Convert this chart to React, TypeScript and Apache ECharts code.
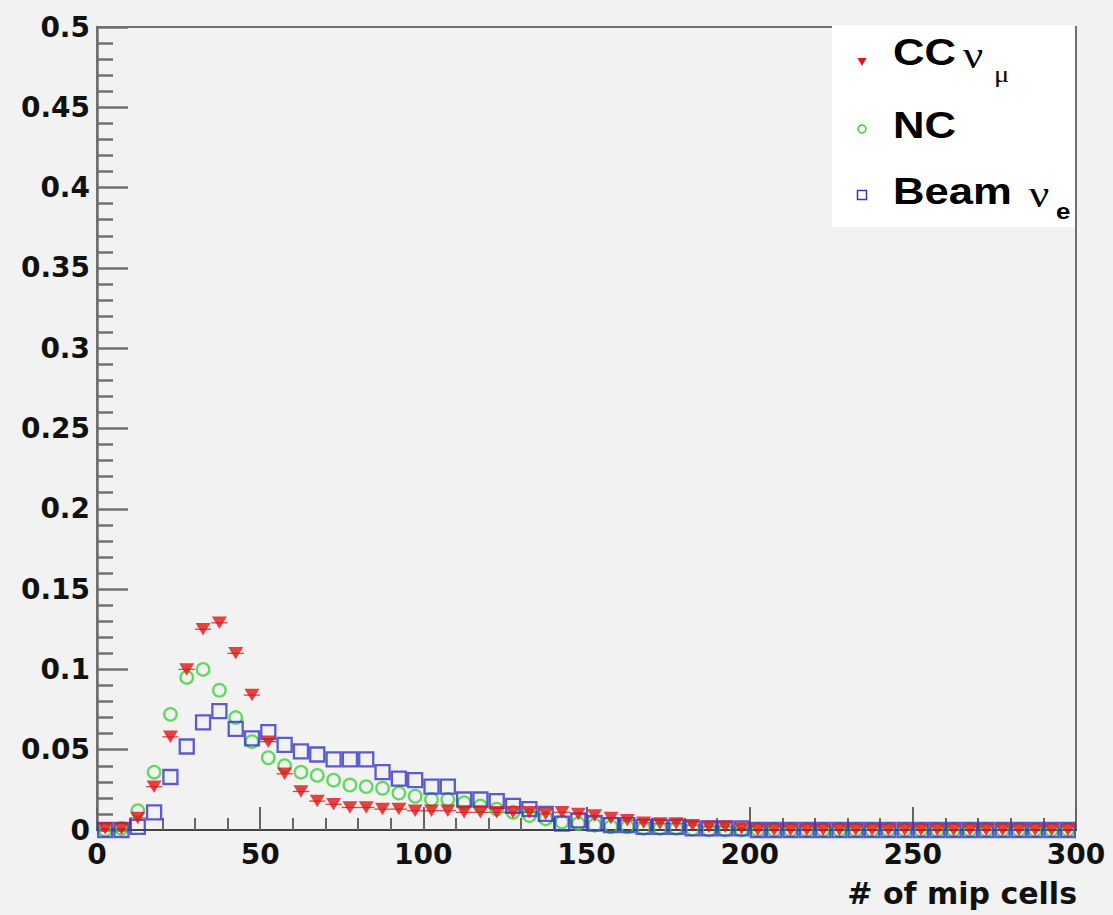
import React, { useEffect, useRef } from "react";
import * as echarts from "echarts";

// Histogram bin centres (bin width 5, range 0-300)
const binCenters = [
  2.5, 7.5, 12.5, 17.5, 22.5, 27.5, 32.5, 37.5, 42.5, 47.5,
  52.5, 57.5, 62.5, 67.5, 72.5, 77.5, 82.5, 87.5, 92.5, 97.5,
  102.5, 107.5, 112.5, 117.5, 122.5, 127.5, 132.5, 137.5, 142.5, 147.5,
  152.5, 157.5, 162.5, 167.5, 172.5, 177.5, 182.5, 187.5, 192.5, 197.5,
  202.5, 207.5, 212.5, 217.5, 222.5, 227.5, 232.5, 237.5, 242.5, 247.5,
  252.5, 257.5, 262.5, 267.5, 272.5, 277.5, 282.5, 287.5, 292.5, 297.5,
];
const binHalfWidth = 2.5;

const ccNumu = [
  0.001, 0.001, 0.0075, 0.027, 0.058, 0.1, 0.125, 0.129, 0.11, 0.084,
  0.055, 0.035, 0.024, 0.018, 0.016, 0.014, 0.014, 0.013, 0.013, 0.012,
  0.012, 0.012, 0.011, 0.011, 0.011, 0.011, 0.011, 0.01, 0.011, 0.01,
  0.009, 0.0075, 0.006, 0.0045, 0.004, 0.004, 0.003, 0.002, 0.002, 0.001,
  0, 0, 0, 0, 0, 0, 0, 0, 0, 0,
  0, 0, 0, 0, 0, 0, 0, 0, 0, 0,
];

const ncValues = [
  0, 0.001, 0.012, 0.036, 0.072, 0.095, 0.1, 0.087, 0.07, 0.055,
  0.045, 0.04, 0.036, 0.034, 0.031, 0.028, 0.027, 0.026, 0.023, 0.021,
  0.019, 0.019, 0.017, 0.015, 0.013, 0.011, 0.009, 0.007, 0.005, 0.004,
  0.003, 0.002, 0.002, 0.001, 0.001, 0.001, 0.0005, 0, 0, 0,
  0, 0, 0, 0, 0, 0, 0, 0, 0, 0,
  0, 0, 0, 0, 0, 0, 0, 0, 0, 0,
];

const beamNue = [
  0, 0, 0.002, 0.011, 0.033, 0.052, 0.067, 0.074, 0.063, 0.057,
  0.061, 0.053, 0.049, 0.047, 0.044, 0.044, 0.044, 0.036, 0.032, 0.031,
  0.027, 0.027, 0.019, 0.019, 0.018, 0.015, 0.013, 0.01, 0.004, 0.006,
  0.004, 0.003, 0.003, 0.002, 0.002, 0.002, 0.001, 0.001, 0.001, 0.001,
  0, 0, 0, 0, 0, 0, 0, 0, 0, 0,
  0, 0, 0, 0, 0, 0, 0, 0, 0, 0,
];

const RED = "#e01414";
const GREEN = "#3cd23c";
const BLUE = "#3434c8";
const FONT = "DejaVu Sans";
const LFONT = "Liberation Sans";
const GFONT = "Liberation Serif";
const SX = 1.18;

const pairs = (ys: number[]) => binCenters.map((x, i) => [x, ys[i]]);

export default function App() {
  const ref = useRef<HTMLDivElement>(null);

  useEffect(() => {
    document.body.style.margin = "0";
    if (!ref.current) return;
    const chart = echarts.init(ref.current, null, { renderer: "svg" });

    const labelStyle = {
      fontFamily: FONT,
      fontWeight: "bold" as const,
      fontSize: 28,
      color: "#111",
    };

    const legendText = (text: string, x: number, y: number, size: number, family: string, weight: string) => ({
      type: "text",
      z: 101,
      x,
      y,
      scaleX: SX,
      style: { text, fontFamily: family, fontWeight: weight, fontSize: size, fill: "#000", verticalAlign: "middle" },
    });

    chart.setOption({
      animation: false,
      backgroundColor: "#f2f2f2",
      grid: {
        left: 97,
        right: 37,
        top: 27,
        bottom: 85,
        containLabel: false,
        outerBoundsMode: "none",
        show: true,
        borderColor: "#707070",
        borderWidth: 2,
        backgroundColor: "transparent",
      },
      xAxis: {
        type: "value",
        min: 0,
        max: 300,
        interval: 50,
        name: "# of mip cells",
        nameLocation: "end",
        nameGap: 1,
        nameTextStyle: {
          fontFamily: FONT,
          fontWeight: "bold",
          fontSize: 30,
          color: "#111",
          align: "right",
          verticalAlign: "top",
          padding: [48, 0, 0, 0],
        },
        axisLine: { show: true, onZero: false, lineStyle: { color: "#444", width: 2 } },
        axisTick: { show: true, inside: true, length: 23, lineStyle: { color: "#666", width: 2 } },
        minorTick: { show: true, splitNumber: 5, length: 12, lineStyle: { color: "#666", width: 2 } },
        splitLine: { show: false },
        axisLabel: { ...labelStyle, margin: 10 },
      },
      yAxis: {
        type: "value",
        min: 0,
        max: 0.5,
        interval: 0.05,
        axisLine: { show: true, onZero: false, lineStyle: { color: "#707070", width: 2.5 } },
        axisTick: { show: true, inside: true, length: 31, lineStyle: { color: "#707070", width: 2.5 } },
        minorTick: { show: true, splitNumber: 5, length: 16, lineStyle: { color: "#707070", width: 2.5 } },
        splitLine: { show: false },
        axisLabel: { ...labelStyle, margin: 7 },
      },
      series: [
        {
          name: "NC",
          type: "scatter",
          data: pairs(ncValues),
          symbol: "circle",
          symbolSize: 12.5,
          clip: false,
          itemStyle: { color: "rgba(0,0,0,0)", borderColor: GREEN, borderWidth: 2.3 },
        },
        {
          name: "Beam νe",
          type: "scatter",
          data: pairs(beamNue),
          symbol: "rect",
          symbolSize: 14,
          clip: false,
          itemStyle: { color: "rgba(0,0,0,0)", borderColor: BLUE, borderWidth: 2.3 },
        },
        {
          name: "CC νμ bin width",
          type: "custom",
          data: pairs(ccNumu),
          clip: false,
          renderItem: (_params: any, api: any) => {
            const x = api.value(0);
            const y = api.value(1);
            const p1 = api.coord([x - binHalfWidth, y]);
            const p2 = api.coord([x + binHalfWidth, y]);
            return {
              type: "line",
              shape: { x1: p1[0], y1: p1[1], x2: p2[0], y2: p2[1] },
              style: { stroke: RED, lineWidth: 1.3, opacity: 0.8 },
            };
          },
        },
        {
          name: "CC νμ",
          type: "scatter",
          data: pairs(ccNumu),
          symbol: "path://M0,0L12,0L6,11Z",
          symbolSize: [15, 12.5],
          clip: false,
          itemStyle: { color: RED },
        },
      ],
      graphic: [
        { type: "rect", z: 100, shape: { x: 832, y: 25, width: 243, height: 202 }, style: { fill: "#ffffff" } },
        { type: "polygon", z: 101, shape: { points: [[857.5, 58], [866.5, 58], [862, 66]] }, style: { fill: RED } },
        { type: "circle", z: 101, shape: { cx: 862, cy: 129, r: 4 }, style: { fill: "none", stroke: GREEN, lineWidth: 1.5 } },
        { type: "rect", z: 101, shape: { x: 857.5, y: 190.5, width: 9, height: 9 }, style: { fill: "none", stroke: BLUE, lineWidth: 1.5 } },
        legendText("CC", 893, 52, 37, LFONT, "bold"),
        legendText("ν", 963, 55, 38, GFONT, "normal"),
        legendText("μ", 994, 74, 24, GFONT, "normal"),
        legendText("NC", 893, 125, 37, LFONT, "bold"),
        legendText("Beam", 893, 191, 37, LFONT, "bold"),
        legendText("ν", 1029, 194, 38, GFONT, "normal"),
        legendText("e", 1056, 211, 22, LFONT, "bold"),
      ],
    });

    return () => chart.dispose();
  }, []);

  return <div ref={ref} style={{ width: 1113, height: 915 }} />;
}
